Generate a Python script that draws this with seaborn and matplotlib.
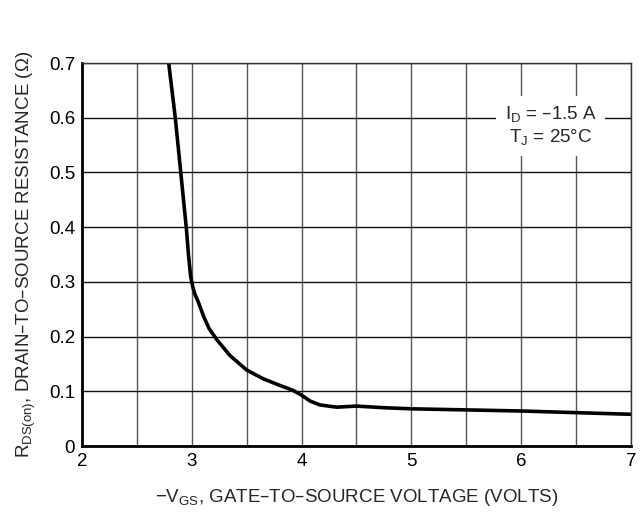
import numpy as np
import pandas as pd
import matplotlib
matplotlib.use("Agg")
import matplotlib.pyplot as plt
import seaborn as sns

# curve
vgs = [2.79, 2.85, 2.90, 2.95, 2.97, 2.99, 3.01, 3.03, 3.06, 3.11, 3.16, 3.23, 3.35, 3.5, 3.65,
       3.80, 3.92, 4.0, 4.08, 4.17, 4.32, 4.5, 4.75, 5.0, 5.5, 6.0, 6.5, 7.0]
rds = [0.70, 0.60, 0.50, 0.40, 0.35, 0.31, 0.29, 0.277, 0.263, 0.236, 0.214, 0.194, 0.165, 0.139, 0.123,
       0.111, 0.102, 0.093, 0.082, 0.075, 0.071, 0.073, 0.070, 0.068, 0.066, 0.064, 0.061, 0.058]
xticks = [2, 3, 4, 5, 6, 7]
yticks = [0, 0.1, 0.2, 0.3, 0.4, 0.5, 0.6, 0.7]
yticklabels = ["0", "0.1", "0.2", "0.3", "0.4", "0.5", "0.6", "0.7"]

df = pd.DataFrame({"vgs": vgs, "rds": rds})

sns.set_style("white")
plt.rcParams["font.family"] = ["Liberation Sans", "DejaVu Sans"]
plt.rcParams["mathtext.default"] = "regular"

fig = plt.figure(figsize=(6.43, 5.23), dpi=100)
ax = fig.add_axes([0.1275, 0.1472, 0.8535, 0.7323])

sns.lineplot(data=df, x="vgs", y="rds", color="black", linewidth=2.6, ax=ax, sort=False)

ax.set_xlim(2, 7)
ax.set_ylim(0, 0.7)
ax.set_xticks(xticks)
ax.set_xticks(np.arange(2.5, 7, 1.0), minor=True)
ax.set_yticks(yticks)
ax.set_yticklabels(yticklabels)
ax.grid(True, which="both", axis="x", color="#555555", linewidth=1.0)
ax.grid(True, which="major", axis="y", color="#111111", linewidth=1.0)
ax.set_axisbelow(True)
ax.tick_params(which="both", length=0, labelsize=13.5, colors="black", pad=5)

for s in ["left", "bottom"]:
    ax.spines[s].set_linewidth(2)
    ax.spines[s].set_color("black")
for s in ["top", "right"]:
    ax.spines[s].set_linewidth(1)
    ax.spines[s].set_color("#333333")

ax.set_xlabel(r"$-V_{GS}$, GATE–TO–SOURCE VOLTAGE (VOLTS)", fontsize=13.5, labelpad=12)
ax.set_ylabel(r"$R_{DS(on)}$, DRAIN–TO–SOURCE RESISTANCE (Ω)", fontsize=13.5, labelpad=8)

ax.text(6.27, 0.585, "$I_D$ = –1.5 A\n$T_J$ = 25°C", fontsize=13.5, ha="center", va="center",
        linespacing=1.2,
        bbox=dict(facecolor="white", edgecolor="none", pad=6))

fig.savefig("out.png", dpi=100)
